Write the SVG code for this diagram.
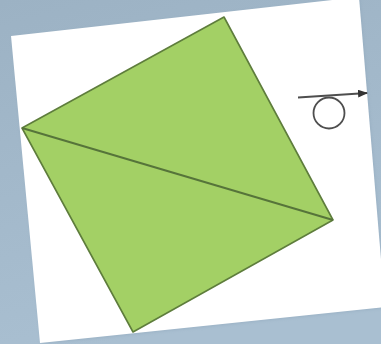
<svg xmlns="http://www.w3.org/2000/svg" width="381" height="344" viewBox="0 0 381 344">
  <defs>
    <linearGradient id="bg" x1="0" y1="0" x2="0.3" y2="1">
      <stop offset="0" stop-color="#9cb2c4"/>
      <stop offset="1" stop-color="#a9bfd1"/>
    </linearGradient>
    <filter id="sh" x="-10%" y="-10%" width="120%" height="120%">
      <feGaussianBlur stdDeviation="1.5"/>
    </filter>
    <marker id="ah" markerWidth="10" markerHeight="8" refX="9" refY="4" orient="auto" markerUnits="userSpaceOnUse">
      <path d="M0,0 L10,4 L0,8 Z" fill="#333"/>
    </marker>
  </defs>
  <style>
    .paper { fill: #ffffff; }
    .sq { fill: #a3d065; stroke: #5e7d3c; stroke-width: 1.6; stroke-linejoin: round; }
    .diag { stroke: #56743a; stroke-width: 2; fill: none; }
    .sym { stroke: #4e4e4e; stroke-width: 1.8; fill: none; }
  </style>
  <rect width="381" height="344" fill="url(#bg)"/>
  <g id="paper">
    <polygon points="12,37 360,-2 386,308 41,344" fill="#8ea6ba" opacity="0.5" filter="url(#sh)"/>
    <polygon class="paper" points="11,36 359,-3 385,307 40,343"/>
  </g>
  <g id="square">
    <polygon class="sq" points="224,17 333,220 133,332 22,128"/>
  </g>
  <g id="connectors">
    <line class="diag" x1="22" y1="128" x2="333" y2="220"/>
  </g>
  <g id="turn-over-symbol">
    <circle class="sym" cx="329" cy="113" r="15.5"/>
    <path class="sym" d="M298,97.5 L367,93" marker-end="url(#ah)"/>
  </g>
</svg>
